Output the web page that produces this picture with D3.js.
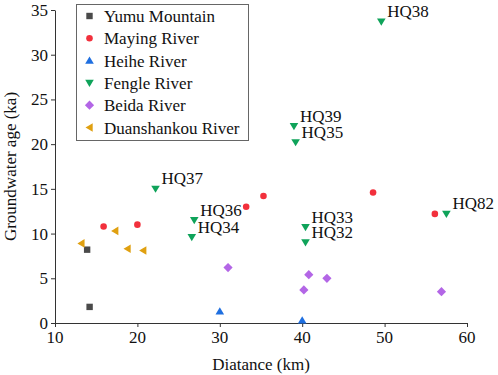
<html><head><meta charset="UTF-8">
<script src="https://d3js.org/d3.v7.min.js"></script>
</head>
<body style="margin:0">
<svg id="s" width="498" height="375"></svg>
<script>
// series, [distance km, age ka]
const yumu = [[13.9, 8.2], [14.2, 1.8]];
const maying = [[15.9, 10.8], [20.0, 11.0], [33.2, 13.0], [35.3, 14.2], [48.6, 14.6], [56.1, 12.2]];
const heihe = [[30.0, 1.3], [40.0, 0.3]];
const fengle = [[22.2, 15.0], [26.9, 11.5], [26.6, 9.6], [49.6, 33.7], [39.0, 22.0], [39.2, 20.2], [40.4, 10.7], [40.4, 9.0], [57.5, 12.2]];
const fengleNames = ["HQ37", "HQ36", "HQ34", "HQ38", "HQ39", "HQ35", "HQ33", "HQ32", "HQ82"];
const beida = [[31.0, 6.2], [40.8, 5.4], [43.0, 5.0], [40.2, 3.7], [56.9, 3.5]];
const duanshankou = [[13.2, 8.9], [17.3, 10.3], [18.8, 8.3], [20.7, 8.1]];

const seriesNames = ["Yumu Mountain", "Maying River", "Heihe River", "Fengle River", "Beida River", "Duanshankou River"];
const xTicks = [10, 20, 30, 40, 50, 60];
const yTicks = [0, 5, 10, 15, 20, 25, 30, 35];

const series = [
  {name: seriesNames[0], data: yumu, color: "#4a4a4a", shape: "square"},
  {name: seriesNames[1], data: maying, color: "#f2303c", shape: "circle"},
  {name: seriesNames[2], data: heihe, color: "#1f6fe0", shape: "up"},
  {name: seriesNames[3], data: fengle, color: "#0fa35a", shape: "down"},
  {name: seriesNames[4], data: beida, color: "#b366e6", shape: "diamond"},
  {name: seriesNames[5], data: duanshankou, color: "#e0a010", shape: "left"}
];

const svg = d3.select("#s");
const x = d3.scaleLinear().domain([10, 60]).range([55, 467]);
const y = d3.scaleLinear().domain([0, 35]).range([323, 10]);

// marker path centred at 0,0
function marker(shape) {
  switch (shape) {
    case "square": return "M-3.2,-3.2H3.2V3.2H-3.2Z";
    case "circle": return d3.symbol(d3.symbolCircle, 34)();
    case "up": return "M0,-4L4.3,3.2H-4.3Z";
    case "down": return "M0,4L4.3,-3.2H-4.3Z";
    case "left": return "M-4,0L3.2,-4.3V4.3Z";
    case "diamond": return "M0,-4.6L4.6,0L0,4.6L-4.6,0Z";
  }
}

// axis lines and ticks drawn by d3 axes, labels drawn as separate texts below
const xAxis = svg.append("g")
  .attr("transform", `translate(0,${y(0)})`)
  .call(d3.axisBottom(x).tickValues(xTicks).tickSize(4).tickSizeOuter(0).tickFormat(""));
const yAxis = svg.append("g")
  .attr("transform", `translate(${x(10)},0)`)
  .call(d3.axisLeft(y).tickValues(yTicks).tickSize(4).tickSizeOuter(0).tickFormat(""));
[xAxis, yAxis].forEach(g => g.selectAll("path, line").attr("stroke", "#333"));
xAxis.selectAll("text").remove();
yAxis.selectAll("text").remove();

series.forEach(s => {
  svg.append("g").selectAll("path")
    .data(s.data)
    .join("path")
    .attr("d", marker(s.shape))
    .attr("transform", d => `translate(${x(d[0])},${y(d[1])})`)
    .attr("fill", s.color);
});

// legend box
svg.append("rect")
  .attr("x", 76.5).attr("y", 4.5)
  .attr("width", 172).attr("height", 136)
  .attr("fill", "#fff")
  .attr("stroke", "#666");
svg.append("g").selectAll("path")
  .data(series)
  .join("path")
  .attr("d", d => marker(d.shape))
  .attr("transform", (d, i) => `translate(89.5,${16 + i * 22.3})`)
  .attr("fill", d => d.color);

// all text, one flat list
const texts = [];
xTicks.forEach(v => texts.push({t: String(v), x: x(v), y: y(0) + 20, a: "middle"}));
yTicks.forEach(v => texts.push({t: String(v), x: x(10) - 7, y: y(v) + 6, a: "end"}));
fengle.forEach((d, i) => texts.push({t: fengleNames[i], x: x(d[0]) + 6, y: y(d[1]) - 4.5, a: "start"}));
series.forEach((s, i) => texts.push({t: s.name, x: 104, y: 22 + i * 22.3, a: "start"}));
texts.push({t: "Diatance (km)", x: x(35), y: 370, a: "middle"});

svg.selectAll("text.t").data(texts).join("text")
  .attr("class", "t")
  .attr("x", d => d.x).attr("y", d => d.y)
  .attr("text-anchor", d => d.a)
  .style("font-family", d => "'Liberation Serif'")
  .style("font-size", "17px")
  .style("fill", "#111")
  .text(d => d.t);

svg.append("text")
  .attr("transform", `translate(16,${y(17.5)}) rotate(-90)`)
  .attr("text-anchor", "middle")
  .style("font-family", "'Liberation Serif'")
  .style("font-size", "17px")
  .style("fill", "#111")
  .text("Groundwater age (ka)");
</script></body></html>
